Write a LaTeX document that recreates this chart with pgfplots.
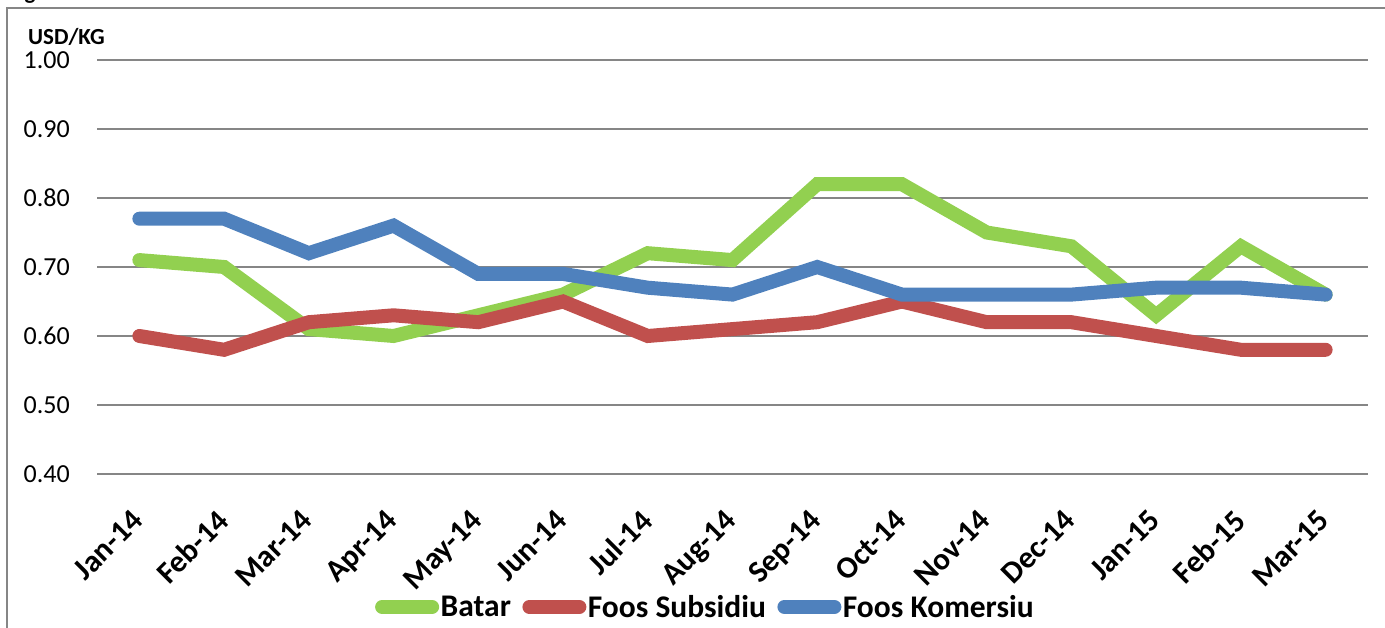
\documentclass[border=0pt]{standalone}
\usepackage{fontspec}
\setmainfont{Carlito}
\usepackage{pgfplots}
\pgfplotsset{compat=1.18}
\definecolor{cgreen}{RGB}{146,208,80}
\definecolor{cred}{RGB}{192,80,77}
\definecolor{cblue}{RGB}{79,129,189}
\definecolor{cgrid}{RGB}{134,134,134}
\begin{document}
\begin{tikzpicture}[x=1pt,y=1pt]
\useasboundingbox (0,0) rectangle (1385,628);
\draw[cgrid, line width=2pt] (7,-5) -- (7,620) -- (1390,620);
\node[anchor=base, font=\fontsize{23}{28}\selectfont\bfseries, inner sep=0pt] at (30,628) {g};
\node[anchor=base west, font=\fontsize{23}{28}\selectfont\bfseries, inner sep=0pt] at (28,583) {USD/KG};
\begin{axis}[at={(97pt,154pt)}, anchor=south west, width=1271pt, height=414pt, scale only axis,
  xmin=-0.5, xmax=14.5, ymin=0.4, ymax=1.0,
  ytick={0.4,0.5,0.6,0.7,0.8,0.9,1.0},
  ymajorgrids, major grid style={draw=cgrid, line width=2pt},
  axis line style={draw=none}, major tick length=0pt,
  xtick={0,...,14},
  xticklabels={Jan-14,Feb-14,Mar-14,Apr-14,May-14,Jun-14,Jul-14,Aug-14,Sep-14,Oct-14,Nov-14,Dec-14,Jan-15,Feb-15,Mar-15},
  xticklabel style={xshift=-9pt, yshift=-34pt, rotate=45, anchor=north east, inner sep=0pt, font=\fontsize{31}{37}\selectfont\bfseries},
  yticklabel style={anchor=east, inner sep=0pt, xshift=-27pt, font=\fontsize{26}{31}\selectfont},
  /pgf/number format/assume math mode=true,
  y tick label style={/pgf/number format/fixed, /pgf/number format/fixed zerofill, /pgf/number format/precision=2},
  clip=false,
  legend style={at={(0.4785,-0.321)}, anchor=center, draw=none, fill=none, legend columns=3,
    font=\fontsize{31.5}{37}\selectfont\bfseries,
    /tikz/every even column/.append style={column sep=10pt}, nodes={inner sep=1.5pt}},
  legend image code/.code={\path (0pt,0pt) -- (50pt,0pt); \draw[#1, line cap=round] (7pt,0pt) -- (43pt,0pt);},
]
\addplot[cgreen, line width=14pt, line cap=round] coordinates {
(0,0.71) (1,0.70) (2,0.61) (3,0.60) (4,0.63) (5,0.66) (6,0.72) (7,0.71) (8,0.82) (9,0.82) (10,0.75) (11,0.73) (12,0.63) (13,0.73) (14,0.66)};
\addlegendentry{Batar}
\addplot[cred, line width=14pt, line cap=round] coordinates {
(0,0.60) (1,0.58) (2,0.62) (3,0.63) (4,0.62) (5,0.65) (6,0.60) (7,0.61) (8,0.62) (9,0.65) (10,0.62) (11,0.62) (12,0.60) (13,0.58) (14,0.58)};
\addlegendentry{Foos Subsidiu}
\addplot[cblue, line width=14pt, line cap=round] coordinates {
(0,0.77) (1,0.77) (2,0.72) (3,0.76) (4,0.69) (5,0.69) (6,0.67) (7,0.66) (8,0.70) (9,0.66) (10,0.66) (11,0.66) (12,0.67) (13,0.67) (14,0.66)};
\addlegendentry{Foos Komersiu}
\end{axis}
\end{tikzpicture}
\end{document}
